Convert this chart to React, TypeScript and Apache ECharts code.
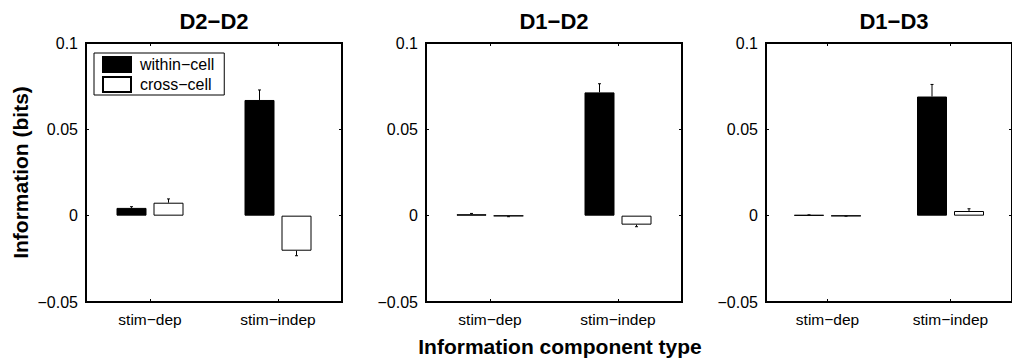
import React, { useEffect, useRef } from "react";
import * as echarts from "echarts";

const categories = ["stim-dep", "stim-indep"];
const panelTitles = ["D2-D2", "D1-D2", "D1-D3"];
const seriesNames = ["within-cell", "cross-cell"];
const withinCell = [
  [0.0045, 0.067],
  [0.0008, 0.0714],
  [0.0004, 0.069],
];
const withinErr = [
  [0.0007, 0.0058],
  [0.0005, 0.005],
  [0.0001, 0.007],
];
const crossCell = [
  [0.0075, -0.0203],
  [-0.0002, -0.0052],
  [-0.0002, 0.0027],
];
const crossErr = [
  [0.0022, 0.0029],
  [0.0004, 0.0012],
  [0.0001, 0.0013],
];
const yMin = -0.05;
const yMax = 0.1;
const yStep = 0.05;
const yAxisTitle = "Information (bits)";
const xAxisTitle = "Information component type";

const FONT = "'Liberation Sans', Arial, Helvetica, sans-serif";
const BAR_W = 30;
const BAR_GAP_PX = 7;

const dash = (s: string) => s.replace(/-/g, "\u2212");

function fmtTick(v: number) {
  if (Math.abs(v) < 1e-9) return "0";
  return dash(String(Math.round(v * 1000) / 1000));
}

export default function App() {
  const ref = useRef<HTMLDivElement>(null);
  useEffect(() => {
    if (!ref.current) return;
    const chart = echarts.init(ref.current, undefined, { renderer: "svg" });
    const lefts = [86, 426, 766];
    const grids: any[] = [];
    const xAxes: any[] = [];
    const yAxes: any[] = [];
    const series: any[] = [];
    const graphics: any[] = [];
    const offset = (BAR_W + BAR_GAP_PX) / 2;
    const tick = { show: true, inside: true, length: 3, lineStyle: { color: "#000", width: 1 } };

    lefts.forEach((left, p) => {
      grids.push({
        left,
        top: 43,
        width: 256,
        height: 259,
        show: true,
        borderColor: "#000",
        borderWidth: 2,
        backgroundColor: "transparent",
      });
      xAxes.push({
        type: "category",
        gridIndex: p,
        data: categories,
        position: "bottom",
        axisLine: { show: false, onZero: false },
        axisTick: { ...tick, alignWithLabel: true },
        axisLabel: { color: "#000", fontSize: 15.5, fontFamily: FONT, margin: 9, formatter: dash },
        splitLine: { show: false },
      });
      xAxes.push({
        type: "category",
        gridIndex: p,
        data: categories,
        position: "top",
        axisLine: { show: false, onZero: false },
        axisTick: { ...tick, alignWithLabel: true },
        axisLabel: { show: false },
        splitLine: { show: false },
      });
      yAxes.push({
        type: "value",
        gridIndex: p,
        min: yMin,
        max: yMax,
        interval: yStep,
        position: "left",
        axisLine: { show: false },
        axisTick: tick,
        axisLabel: { color: "#000", fontSize: 16, fontFamily: FONT, margin: 8, formatter: fmtTick },
        splitLine: { show: false },
        ...(p === 0
          ? {
              name: yAxisTitle,
              nameLocation: "middle",
              nameRotate: 90,
              nameGap: 55,
              nameTextStyle: { color: "#000", fontSize: 21, fontWeight: "bold", fontFamily: FONT },
            }
          : {}),
      });
      yAxes.push({
        type: "value",
        gridIndex: p,
        min: yMin,
        max: yMax,
        interval: yStep,
        position: "right",
        axisLine: { show: false },
        axisTick: tick,
        axisLabel: { show: false },
        splitLine: { show: false },
      });

      series.push({
        type: "bar",
        name: seriesNames[0],
        xAxisIndex: p * 2,
        yAxisIndex: p * 2,
        data: withinCell[p],
        barWidth: BAR_W,
        barGap: (BAR_GAP_PX / BAR_W) * 100 + "%",
        itemStyle: { color: "#000", borderColor: "#000", borderWidth: 1 },
        emphasis: { disabled: true },
      });
      series.push({
        type: "bar",
        name: seriesNames[1],
        xAxisIndex: p * 2,
        yAxisIndex: p * 2,
        data: crossCell[p],
        barWidth: BAR_W,
        barGap: (BAR_GAP_PX / BAR_W) * 100 + "%",
        itemStyle: { color: "#fff", borderColor: "#000", borderWidth: 1 },
        emphasis: { disabled: true },
      });
      const errData: any[] = [];
      categories.forEach((_, ci) => {
        errData.push([ci, withinCell[p][ci], withinErr[p][ci], 0]);
        errData.push([ci, crossCell[p][ci], crossErr[p][ci], 1]);
      });
      series.push({
        type: "custom",
        xAxisIndex: p * 2,
        yAxisIndex: p * 2,
        data: errData,
        z: 5,
        silent: true,
        renderItem: (params: any, api: any) => {
          const ci = api.value(0);
          const v = api.value(1);
          const e = api.value(2);
          const which = api.value(3);
          const sign = v >= 0 ? 1 : -1;
          const base = api.coord([ci, v]);
          const end = api.coord([ci, v + sign * e]);
          const x = base[0] + (which === 0 ? -offset : offset);
          return {
            type: "group",
            children: [
              {
                type: "line",
                shape: { x1: x, y1: base[1], x2: x, y2: end[1] },
                style: { stroke: "#000", lineWidth: 1 },
              },
              {
                type: "line",
                shape: { x1: x - 1.5, y1: end[1], x2: x + 1.5, y2: end[1] },
                style: { stroke: "#000", lineWidth: 1 },
              },
            ],
          };
        },
      });

      graphics.push({
        type: "text",
        x: left + 128,
        y: 21,
        style: {
          text: dash(panelTitles[p]),
          fill: "#000",
          font: `bold 22px ${FONT}`,
          textAlign: "center",
          textVerticalAlign: "middle",
        },
      });
    });

    graphics.push({
      type: "text",
      x: 560,
      y: 346,
      style: {
        text: xAxisTitle,
        fill: "#000",
        font: `bold 21px ${FONT}`,
        textAlign: "center",
        textVerticalAlign: "middle",
      },
    });

    chart.setOption({
      animation: false,
      backgroundColor: "#fff",
      grid: grids,
      xAxis: xAxes,
      yAxis: yAxes,
      series,
      graphic: graphics,
      legend: {
        data: seriesNames.map((n) => ({ name: n, icon: "rect" })),
        formatter: dash,
        orient: "vertical",
        left: 94,
        top: 53,
        itemWidth: 28,
        itemHeight: 15,
        itemGap: 3,
        padding: [3, 10, 2, 8],
        borderColor: "#000",
        borderWidth: 1,
        backgroundColor: "#fff",
        selectedMode: false,
        textStyle: { color: "#000", fontSize: 16, fontFamily: FONT, padding: [0, 0, 0, 4] },
      },
    });
    return () => chart.dispose();
  }, []);
  return (
    <div
      ref={ref}
      style={{ position: "fixed", left: 0, top: 0, width: 1012, height: 358, background: "#fff" }}
    />
  );
}
